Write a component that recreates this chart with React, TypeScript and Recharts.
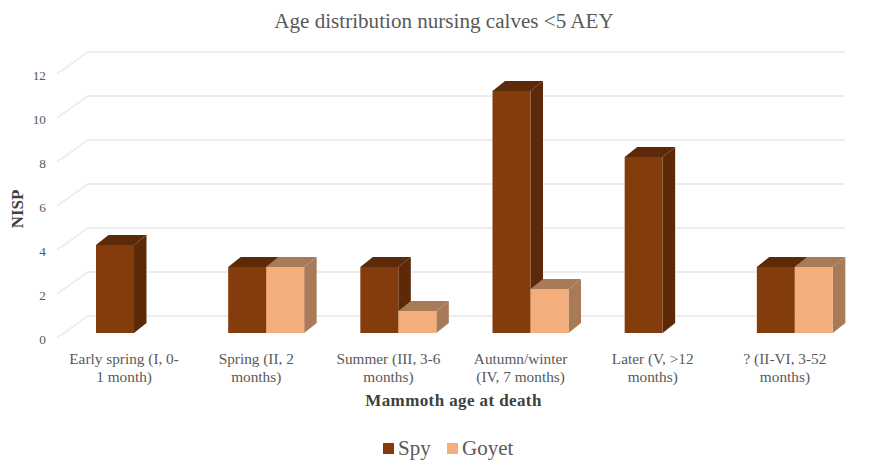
import React from "react";
import { BarChart, Bar, XAxis, YAxis, CartesianGrid, Legend } from "recharts";

const categories = [
  "Early spring (I, 0-\n1 month)",
  "Spring (II, 2\nmonths)",
  "Summer (III, 3-6\nmonths)",
  "Autumn/winter\n(IV, 7 months)",
  "Later (V, >12\nmonths)",
  "? (II-VI, 3-52\nmonths)",
];
const spy = [4, 3, 3, 11, 8, 3];
const goyet = [null, 3, 1, 2, null, 3];
const yTicks = [0, 2, 4, 6, 8, 10, 12];
const title = "Age distribution nursing calves <5 AEY";
const xTitle = "Mammoth age at death";
const yTitle = "NISP";

const rows = categories.map((name, i) => ({ name, Spy: spy[i], Goyet: goyet[i] }));

const FONT = '"Liberation Serif", serif';
const DX = 12.5;
const DY = 10;

const makeBox = (front: string, dark: string) => (props: any) => {
  const { x, y, width, height } = props;
  if (!height || height <= 0) return <g />;
  const r = x + width;
  const b = y + height;
  return (
    <g>
      <polygon points={`${r},${y} ${r + DX},${y - DY} ${r + DX},${b - DY} ${r},${b}`} fill={dark} />
      <polygon points={`${x},${y} ${x + DX},${y - DY} ${r + DX},${y - DY} ${r},${y}`} fill={dark} />
      <rect x={x} y={y} width={width} height={height} fill={front} />
    </g>
  );
};

const gridLine = (props: any) => {
  const { y1, x1 } = props;
  const fx = 57;
  const bx = 88;
  const ex = 845;
  return (
    <path
      key={`g-${y1}-${x1}`}
      d={`M${fx},${y1 + 5} L${bx},${y1 - 17} L${ex},${y1 - 17}`}
      fill="none"
      stroke="#E8E8E8"
      strokeWidth={1.5}
    />
  );
};

const XTick = (props: any) => {
  const { x, y, payload } = props;
  const lines = String(payload.value).split("\n");
  return (
    <text x={x - 10} y={y} textAnchor="middle" fontFamily={FONT} fontSize={15.3} fill="#595959">
      {lines.map((l: string, i: number) => (
        <tspan key={i} x={x - 10} y={y + 23 + i * 17.5}>
          {l}
        </tspan>
      ))}
    </text>
  );
};

const YTick = (props: any) => {
  const { y, payload } = props;
  return (
    <text x={46} y={y + 11} textAnchor="end" fontFamily={FONT} fontSize={13.3} fill="#595959">
      {payload.value}
    </text>
  );
};

const LegendBox = (props: any) => {
  const items = props.payload || [];
  const swatchX = [383, 447];
  const textX = [398, 462];
  return (
    <svg width={877} height={27} style={{ display: "block" }}>
      {items.map((it: any, i: number) => (
        <g key={it.value}>
          <rect x={swatchX[i]} y={7} width={11} height={11} fill={it.color} />
          <text x={textX[i]} y={19} fontFamily={FONT} fontSize={21} fill="#595959">
            {it.value}
          </text>
        </g>
      ))}
    </svg>
  );
};

export default function App() {
  return (
    <div style={{ position: "absolute", left: 0, top: 0, width: 877, height: 463, background: "#fff" }}>
      <BarChart
        width={877}
        height={463}
        data={rows}
        margin={{ top: 69, right: 16, bottom: 0, left: 0 }}
        barGap={0}
        barSize={38}
      >
        <text x={444} y={28} textAnchor="middle" fontFamily={FONT} fontSize={21.1} fill="#595959">
          {title}
        </text>
        <CartesianGrid horizontal={gridLine} vertical={false} />
        <XAxis
          dataKey="name"
          height={130}
          interval={0}
          axisLine={false}
          tickLine={false}
          tick={<XTick />}
          label={{
            value: xTitle,
            position: "insideTop",
            dx: -11,
            dy: 56,
            style: { fontFamily: FONT, fontSize: 17, fontWeight: 700, fill: "#404040", letterSpacing: 0.4 },
          }}
        />
        <YAxis
          domain={[0, 12]}
          ticks={yTicks}
          width={68}
          axisLine={false}
          tickLine={false}
          tick={<YTick />}
          label={{
            value: yTitle,
            angle: -90,
            position: "insideLeft",
            dx: 12,
            dy: 8,
            style: { fontFamily: FONT, fontSize: 17, fontWeight: 700, fill: "#404040", textAnchor: "middle" },
          }}
        />
        <Legend
          layout="horizontal"
          align="center"
          verticalAlign="middle"
          itemSorter={null as any}
          wrapperStyle={{ left: 0, top: 436, width: 877 }}
          content={<LegendBox />}
        />
        <Bar dataKey="Spy" fill="#843C0C" isAnimationActive={false} shape={makeBox("#843C0C", "#5C2A08")} />
        <Bar dataKey="Goyet" fill="#F4AE7C" isAnimationActive={false} shape={makeBox("#F4AE7C", "#A97A58")} />
      </BarChart>
    </div>
  );
}
